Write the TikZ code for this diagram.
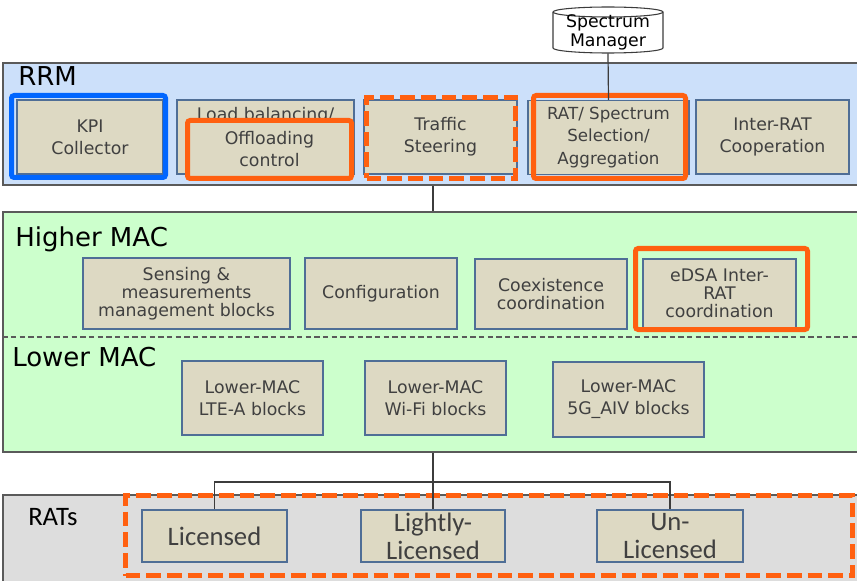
\documentclass[tikz,border=0pt]{standalone}
\usepackage{fontspec}
\setmainfont{DejaVu Sans}
\newfontfamily\carlfont{Carlito}
\definecolor{rrmfill}{RGB}{204,224,250}
\definecolor{macfill}{RGB}{204,255,204}
\definecolor{ratfill}{RGB}{221,221,221}
\definecolor{tanfill}{RGB}{221,217,195}
\definecolor{boxedge}{RGB}{79,110,150}
\definecolor{framegray}{RGB}{90,90,90}
\definecolor{txtgray}{RGB}{64,64,64}
\definecolor{hlorange}{RGB}{255,96,16}
\definecolor{hlblue}{RGB}{0,102,255}
\definecolor{linegray}{RGB}{60,60,60}
\tikzset{
  sz/.style 2 args={minimum width=#1*0.75pt, minimum height=#2*0.75pt},
  frame/.style={draw=framegray, line width=1.2pt, inner sep=0pt},
  title/.style={anchor=base west, inner sep=0pt, text=black, font=\fontsize{19.5}{23}\selectfont},
  blk/.style={draw=boxedge, fill=tanfill, line width=0.9pt, text=txtgray, align=center, inner sep=0pt, font=\fontsize{13}{16.5}\selectfont},
  ratblk/.style={blk, font=\carlfont\fontsize{20}{21}\selectfont},
  hlsolid/.style={draw=hlorange, line width=3.75pt, rounded corners=2pt, inner sep=0pt},
  hlblue/.style={draw=hlblue, line width=3.75pt, rounded corners=2pt, inner sep=0pt},
  hldash/.style={draw=hlorange, line width=3.75pt, dash pattern=on 11pt off 4.5pt, inner sep=0pt},
  conn/.style={draw=linegray, line width=0.9pt},
}
\begin{document}
\begin{tikzpicture}[x=0.75pt, y=-0.75pt]
\useasboundingbox (0,0) rectangle (857,581);
\clip (0,0) rectangle (857,581);

% frames
\node[frame, fill=rrmfill, sz={860}{122}] (rrm) at (433,124) {};
\node[frame, fill=macfill, sz={860}{240}] (hmac) at (433,332) {};
\node[frame, fill=ratfill, sz={860}{90}] (rats) at (433,540) {};

\node[title] (trrm) at (18,86) {RRM};
\node[title] (thmac) at (15,246.7) {Higher MAC};
\node[title] (tlmac) at (12,366.7) {Lower MAC};
\node[title, font=\carlfont\fontsize{20}{22}\selectfont] (trats) at (28,525) {RATs};

\draw[framegray, line width=0.8pt, dash pattern=on 4pt off 2.5pt] (hmac.west |- 0,337) -- (hmac.east |- 0,337);

% spectrum manager cylinder
\node[sz={110}{46}, inner sep=0pt] (spec) at (608,30) {};
\draw[linegray, fill=white, line width=0.8pt] (553,12) -- (553,48) arc (180:360:41.25pt and 3.75pt) -- (663,12) arc (0:180:41.25pt and 3.75pt) -- cycle;
\draw[linegray, line width=0.8pt] (553,12) arc (180:360:41.25pt and 3.75pt);
\node[align=center, inner sep=0pt, text=black, font=\fontsize{13}{14.25}\selectfont] (spect) at (608,32.5) {Spectrum\\Manager};

% RRM boxes
\node[blk, sz={146}{74}] (kpi) at (90,137) {KPI\\Collector};
\node[blk, sz={177}{74}] (lb) at (265.5,137) {};
\node[anchor=base, inner sep=0pt, text=txtgray, font=\fontsize{13}{16.5}\selectfont] (lbt) at (265.5,121) {Load balancing/};
\node[blk, draw=hlorange, line width=3.75pt, rounded corners=2pt, sz={164}{58}] (off) at (269.5,149.5) {Offloading\\control};
\node[blk, sz={153}{74}] (ts) at (440.5,137) {Traffic\\Steering};
\node[blk, sz={161}{74}, font=\fontsize{12.5}{16.9}\selectfont] (rat) at (608.5,137.5) {RAT/ Spectrum\\Selection/\\Aggregation};
\node[blk, sz={153}{74}] (irc) at (772.5,137) {Inter-RAT\\Cooperation};

\node[hlblue, sz={154}{82}] (kpio) at (88.5,136.5) {};
\node[hldash, sz={149}{81}] (tso) at (441,138) {};
\node[hlsolid, sz={152}{83}] (rato) at (609.5,137) {};

% Higher MAC boxes
\node[blk, sz={207}{71}, font=\fontsize{13}{13.5}\selectfont] (sens) at (186.5,293.5) {Sensing \&\\measurements\\management blocks};
\node[blk, sz={152}{71}] (conf) at (381,293.5) {Configuration};
\node[blk, sz={152}{70}, font=\fontsize{13}{13.5}\selectfont] (coex) at (551,294) {Coexistence\\coordination};
\node[blk, sz={153}{69}, font=\fontsize{13}{13.5}\selectfont] (edsa) at (719.5,293.5) {eDSA Inter-\\RAT\\coordination};
\node[hlsolid, sz={172}{81}] (edsao) at (721.5,289) {};

% Lower MAC boxes
\node[blk, sz={141}{74}] (lte) at (252.5,398) {Lower-MAC\\LTE-A blocks};
\node[blk, sz={141}{74}] (wifi) at (435.5,398) {Lower-MAC\\Wi-Fi blocks};
\node[blk, sz={151}{75}] (g5) at (628.5,399.5) {Lower-MAC\\5G\_AIV blocks};

% RATs
\node[hldash, sz={727}{80}] (ratso) at (489,535.5) {};
\node[ratblk, sz={145}{52}] (lic) at (214.5,536) {Licensed};
\node[ratblk, sz={144}{52}] (lig) at (433,536) {Lightly-\\Licensed};
\node[ratblk, sz={146}{52}] (unl) at (670,536) {Un-\\Licensed};

% connectors
\coordinate (bar) at (433,482);
\draw[conn] (spec.south) -- (rat.north);
\draw[conn] (rrm.south) -- (hmac.north);
\draw[conn] (hmac.south) -- (lig.north);
\draw[conn] (lic.north) |- (bar) -| (unl.north);
\end{tikzpicture}
\end{document}
